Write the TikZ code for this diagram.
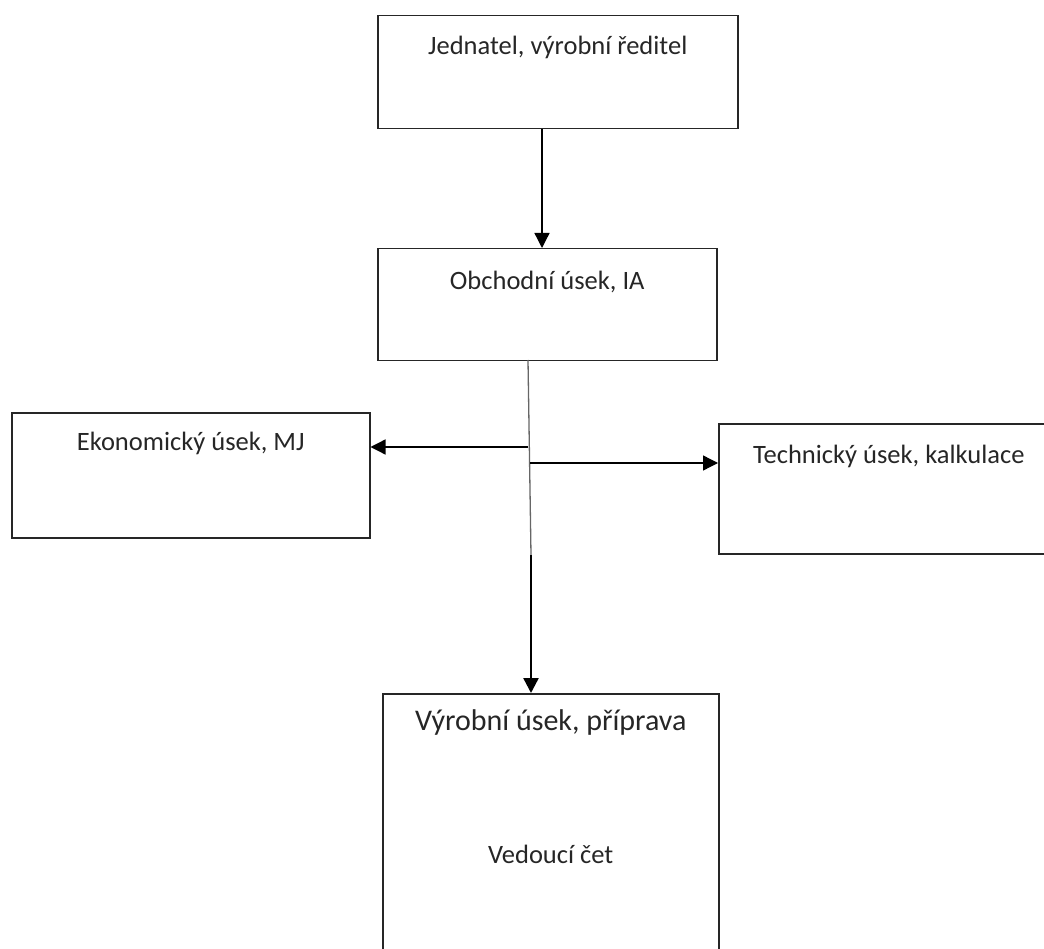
\documentclass[tikz,border=0pt]{standalone}
\usepackage{fontspec}
\setmainfont{Carlito}
\usetikzlibrary{arrows.meta}

\begin{document}
\begin{tikzpicture}[x=1pt,y=-1pt]
    \tikzstyle{marrs}=[line width=1.3pt,-{Triangle[length=15pt,width=15pt]}]
    \tikzstyle{ubox}=[draw=black!85, rectangle, line width=1.5pt, inner sep=0pt, anchor=north west]
    \tikzstyle{utext}=[anchor=base, inner sep=0pt, text=black!85, font=\fontsize{26.5}{30}\selectfont]

    \useasboundingbox (0,0) rectangle (1044,949);
    \clip (0,0) rectangle (1044,949);

    % boxes
    \node[ubox, minimum width=360pt, minimum height=113pt] (jed) at (377,15) {};
    \node[ubox, minimum width=339pt, minimum height=112pt] (obch) at (377,248) {};
    \node[ubox, minimum width=358pt, minimum height=125pt] (eko) at (11,412) {};
    \node[ubox, minimum width=340pt, minimum height=130pt] (tech) at (718,423) {};
    \node[ubox, minimum width=336pt, minimum height=320pt] (vyr) at (382,693) {};

    % texts
    \node[utext] (jedt) at ([yshift=-40pt]jed.north) {Jednatel, výrobní ředitel};
    \node[utext] (obcht) at ([yshift=-42pt]obch.north) {Obchodní úsek, IA};
    \node[utext] (ekot) at ([yshift=-38pt]eko.north) {Ekonomický úsek, MJ};
    \node[utext] (techt) at ([yshift=-40pt]tech.north) {Technický úsek, kalkulace};
    \node[utext, font=\fontsize{30}{34}\selectfont] (vyrt) at ([yshift=-37pt]vyr.north) {Výrobní úsek, příprava};
    \node[utext] (vedt) at ([yshift=-170pt]vyr.north) {Vedoucí čet};

    % connectors
    \coordinate (top) at (528,360);
    \coordinate (left) at (528,447);
    \coordinate (right) at (530,463);
    \coordinate (mid) at (531,555);

    \draw[marrs] (jed.south -| 542,0) -- (obch.north -| 542,0);
    \draw[line width=1.3pt, black!60] (top) -- (mid);
    \draw[marrs] (left) -- (eko.east |- left);
    \draw[marrs] (right) -- (tech.west |- right);
    \draw[marrs, line width=2.4pt] (mid) -- (vyr.north -| mid);
\end{tikzpicture}
\end{document}
